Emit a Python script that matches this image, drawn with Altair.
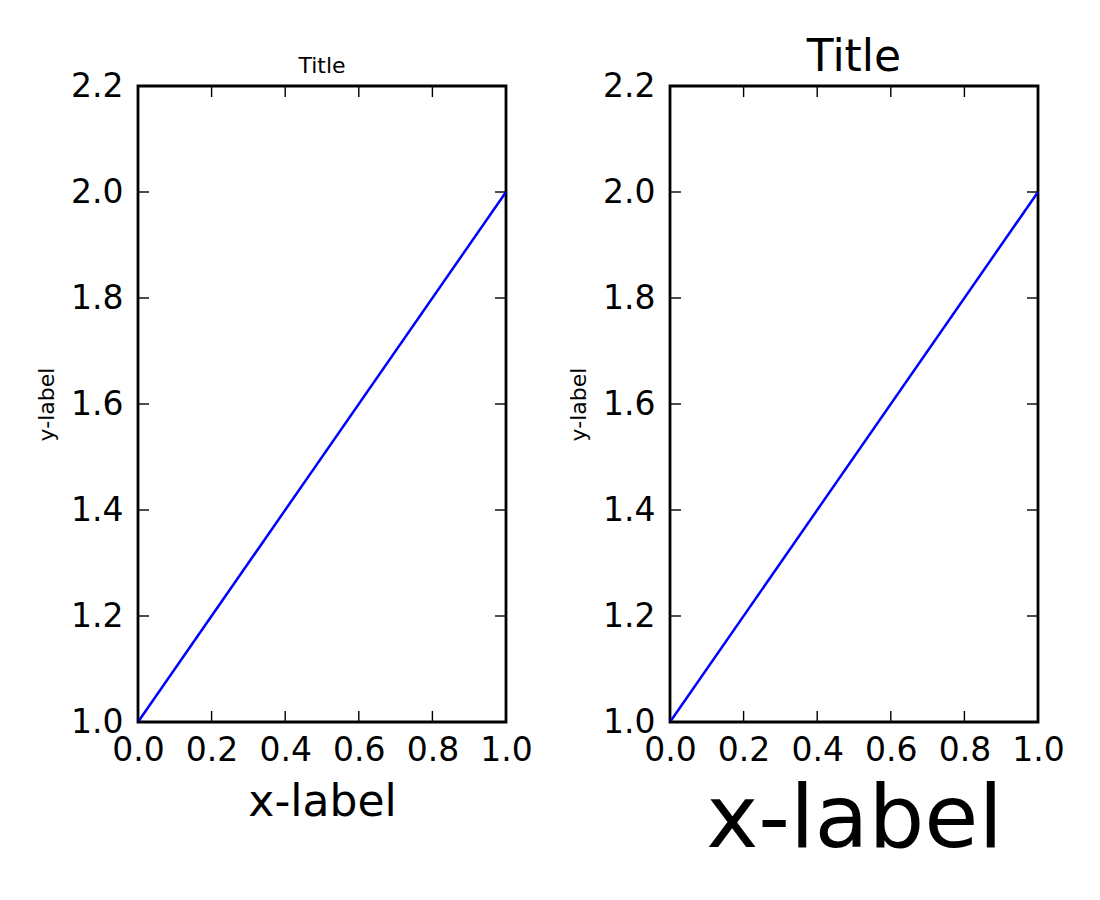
import altair as alt
import pandas as pd

# data
line_x = [0.0, 1.0]
line_y = [1.0, 2.0]
x_ticks = [0.0, 0.2, 0.4, 0.6, 0.8, 1.0]
y_ticks = [1.0, 1.2, 1.4, 1.6, 1.8, 2.0, 2.2]

W, H = 368, 636
FONT = "DejaVu Sans"
TICK_LEN = 11

line_df = pd.DataFrame({"x": line_x, "y": line_y})
xt_df = pd.DataFrame({"x": x_ticks})
yt_df = pd.DataFrame({"y": y_ticks})

xscale = alt.Scale(domain=[0, 1], nice=False, zero=False)
yscale = alt.Scale(domain=[1.0, 2.2], nice=False, zero=False)


def panel(title_size, title_offset, xlabel_size, xtitle_y):
    xaxis = alt.Axis(
        values=x_ticks, format=".1f", title="x-label", titleFontSize=xlabel_size,
        titleFont=FONT, titleFontWeight="normal", titleColor="black",
        titleBaseline="top", titleY=xtitle_y, titleAlign="center", titleX=W / 2,
        labelFont=FONT, labelFontSize=33, labelColor="black", labelPadding=12,
        labelFlush=False, labelOverlap=False, ticks=False, tickSize=0,
        domain=False, grid=False,
    )
    yaxis = alt.Axis(
        values=y_ticks, format=".1f", title="y-label", titleFontSize=22,
        titleFont=FONT, titleFontWeight="normal", titleColor="black",
        titleAngle=270, titleBaseline="middle", titleAlign="center",
        titleX=-92, titleY=H / 2,
        labelFont=FONT, labelFontSize=33, labelColor="black", labelPadding=15,
        labelFlush=False, labelOverlap=False, ticks=False, tickSize=0,
        domain=False, grid=False,
    )
    X = alt.X("x:Q", scale=xscale, axis=xaxis)
    Y = alt.Y("y:Q", scale=yscale, axis=yaxis)
    line = alt.Chart(line_df).mark_line(color="#0000ff", strokeWidth=2.5).encode(
        x=X, y=Y,
    )
    tick_style = dict(color="black", strokeWidth=1.4)
    bottom = alt.Chart(xt_df).mark_rule(**tick_style).encode(
        x=X, y=alt.value(H), y2=alt.value(H - TICK_LEN),
    )
    top = alt.Chart(xt_df).mark_rule(**tick_style).encode(
        x=X, y=alt.value(0), y2=alt.value(TICK_LEN),
    )
    left = alt.Chart(yt_df).mark_rule(**tick_style).encode(
        y=Y, x=alt.value(0), x2=alt.value(TICK_LEN),
    )
    right = alt.Chart(yt_df).mark_rule(**tick_style).encode(
        y=Y, x=alt.value(W), x2=alt.value(W - TICK_LEN),
    )
    return alt.layer(line, bottom, top, left, right).properties(
        width=W, height=H,
        title=alt.TitleParams("Title", fontSize=title_size, font=FONT,
                              fontWeight="normal", color="black",
                              anchor="middle", baseline="alphabetic",
                              offset=title_offset),
    )


chart = alt.hconcat(
    panel(22, -25, 44, 58), panel(44, -45, 88, 54), spacing=164, bounds="flush"
).properties(
    padding={"left": 25, "top": 26, "right": 0, "bottom": 0},
    background="white",
).configure_view(
    stroke="black", strokeWidth=2.8
)

chart.save("out.html", embed_options={"renderer": "svg", "actions": False})
